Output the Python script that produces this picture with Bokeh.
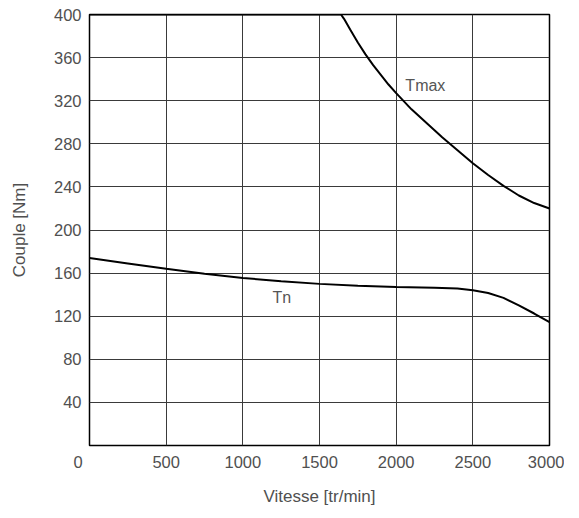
from bokeh.plotting import figure
from bokeh.models import Range1d, FixedTicker, Label
from bokeh.embed import file_html
from bokeh.resources import INLINE

# Data
tmax_speed = [0, 1640, 1660, 1700, 1750, 1800, 1850, 1900, 1950, 2000, 2100, 2200,
              2300, 2400, 2500, 2600, 2700, 2800, 2900, 3000]
tmax_torque = [400, 400, 396, 386, 374, 363, 353, 344, 335, 327, 312, 299,
               286, 274, 262, 251, 241, 232, 225, 220]

tn_speed = [0, 250, 500, 750, 1000, 1250, 1500, 1750, 2000, 2250, 2400, 2500,
            2600, 2700, 2800, 2900, 3000]
tn_torque = [174, 169, 164, 159.5, 155.5, 152.5, 150, 148.2, 147, 146.3, 145.6, 144,
             141.5, 137, 130, 122.5, 114.5]

x_ticks = [0, 500, 1000, 1500, 2000, 2500, 3000]
x_grid = [500, 1000, 1500, 2000, 2500, 3000]
y_ticks = [40, 80, 120, 160, 200, 240, 280, 320, 360, 400]

FONT = "Liberation Sans"
TXT = "#505050"

p = figure(output_backend="svg", toolbar_location=None,
           frame_width=460, frame_height=431,
           x_range=Range1d(0, 3000), y_range=Range1d(0, 400),
           min_border_left=89, min_border_top=14, min_border_right=15,
           min_border_bottom=60)

p.outline_line_color = "black"
p.outline_line_width = 1.5

for ax in (p.xaxis[0], p.yaxis[0]):
    ax.axis_line_color = None
    ax.major_tick_line_color = None
    ax.minor_tick_line_color = None
    ax.major_tick_out = 0
    ax.major_tick_in = 0
    ax.minor_tick_out = 0
    ax.minor_tick_in = 0
    ax.major_label_text_font = FONT
    ax.major_label_text_font_size = "16.5px"
    ax.major_label_text_color = TXT
    ax.axis_label_text_font = FONT
    ax.axis_label_text_font_size = "17px"
    ax.axis_label_text_font_style = "normal"
    ax.axis_label_text_color = TXT

p.xaxis.ticker = FixedTicker(ticks=x_ticks)
# the origin label sits left of the corner in the reference
p.xaxis.major_label_overrides = {0: "0" + "\u00a0" * 5}
p.yaxis.ticker = FixedTicker(ticks=y_ticks)
p.xaxis.major_label_standoff = 7
p.yaxis.major_label_standoff = 8
p.xaxis.axis_label = "Vitesse [tr/min]"
p.yaxis.axis_label = "Couple [Nm]"
p.xaxis.axis_label_standoff = 13
p.yaxis.axis_label_standoff = 22

p.xgrid.ticker = FixedTicker(ticks=x_grid)
p.ygrid.ticker = FixedTicker(ticks=y_ticks)
for g in (p.xgrid[0], p.ygrid[0]):
    g.grid_line_color = "#3a3a3a"
    g.grid_line_width = 1

p.line(tmax_speed, tmax_torque, line_color="black", line_width=2)
p.line(tn_speed, tn_torque, line_color="black", line_width=2)

p.add_layout(Label(x=2060, y=334, text="Tmax", text_font=FONT,
                   text_font_size="16px", text_color="#555555",
                   text_baseline="middle"))
p.add_layout(Label(x=1193, y=137, text="Tn", text_font=FONT,
                   text_font_size="16px", text_color="#555555",
                   text_baseline="middle"))

open("out.html", "w").write(file_html(p, INLINE))
